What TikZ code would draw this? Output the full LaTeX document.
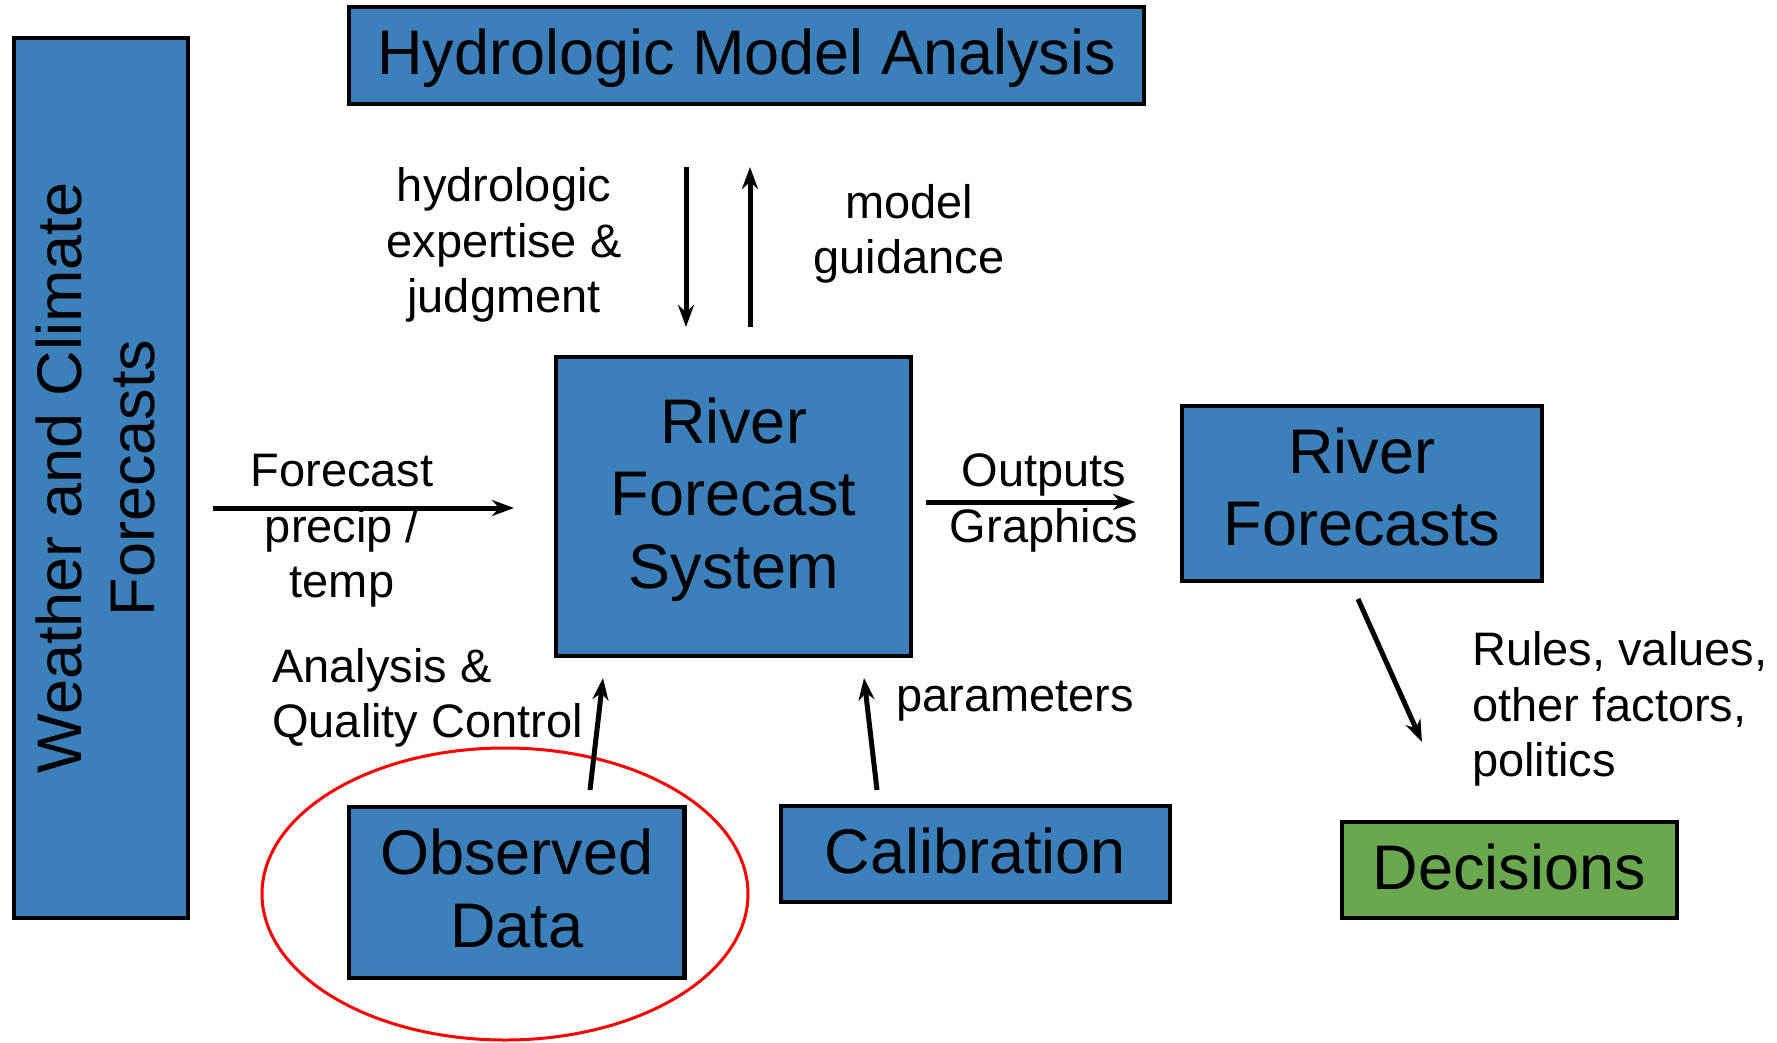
\documentclass[tikz,border=0pt]{standalone}
\usepackage{fontspec}
\setmainfont{Liberation Sans}
\usetikzlibrary{arrows.meta,shapes.geometric}
\definecolor{boxblue}{RGB}{59,128,186}
\definecolor{boxgreen}{RGB}{106,168,79}
\tikzset{
  box/.style={draw=black, line width=4.5pt, fill=boxblue, inner sep=0pt, align=center,
    font=\fontsize{63}{72.5}\selectfont},
  lbl/.style={inner sep=0pt, font=\fontsize{47}{55.5}\selectfont},
  arr/.style={line width=5pt, -{Stealth[length=22pt,width=16pt,inset=7pt]}},
}
\begin{document}
\begin{tikzpicture}[x=1pt,y=-1pt]
\useasboundingbox[fill=white] (0,0) rectangle (1777,1043);
% boxes
\node[box, rotate=90, text depth=12pt, minimum width=879.5pt, minimum height=174.4pt] (wc) at (101,478) {Weather and Climate\\Forecasts};
\node[box, text depth=8.5pt, minimum width=795pt, minimum height=97pt] (hma) at (746.5,55.5) {Hydrologic Model Analysis};
\node[box, text depth=27pt, minimum width=355pt, minimum height=299pt] (rfs) at (733.5,506.5) {River\\Forecast\\System};
\node[box, text depth=14pt, minimum width=360pt, minimum height=175pt] (rf) at (1362,493.5) {River\\Forecasts};
\node[box, text depth=9pt, minimum width=335.5pt, minimum height=171pt] (obs) at (516.8,892.5) {Observed\\Data};
\node[box, text depth=7pt, minimum width=389pt, minimum height=96pt] (cal) at (975.5,854) {Calibration};
\node[box, text depth=7pt, fill=boxgreen, minimum width=335pt, minimum height=96pt] (dec) at (1509.5,870) {Decisions};
% red ellipse
\node[draw=red, line width=3pt, ellipse, inner sep=0pt, minimum width=486pt, minimum height=292pt] (circ) at (505,894) {};
% connector end points
\coordinate (d1) at (686,167); \coordinate (d2) at (686,327);
\coordinate (u1) at (750,327); \coordinate (u2) at (750,167);
\coordinate (f1) at (213,508); \coordinate (f2) at (514,508);
\coordinate (o1) at (926,502); \coordinate (o2) at (1135,502);
\coordinate (a1) at (590,790); \coordinate (a2) at (603,678);
\coordinate (p1) at (877,790); \coordinate (p2) at (864,678);
\coordinate (r1) at (1358,599); \coordinate (r2) at (1422,742);
\draw[arr] (d1) -- (d2);
\draw[arr] (u1) -- (u2);
\draw[arr] (f1) -- (f2);
\draw[arr] (o1) -- (o2);
\draw[arr] (a1) -- (a2);
\draw[arr] (p1) -- (p2);
\draw[arr] (r1) -- (r2);
% labels
\node[lbl, align=center] (l1) at (504,245) {hydrologic\\expertise \&\\judgment};
\node[lbl, align=center] (l2) at (909,234) {model\\guidance};
\node[lbl, align=center] (l3) at (342,531) {Forecast\\precip /\\temp};
\node[lbl, align=center] (l4) at (1044,503) {Outputs\\Graphics};
\node[lbl, align=left, anchor=west] (l5) at (272,698) {Analysis \&\\Quality Control};
\node[lbl, anchor=west] (l6) at (896,701) {parameters};
\node[lbl, align=left, anchor=west] (l7) at (1472,709) {Rules, values,\\other factors,\\politics};
\end{tikzpicture}
\end{document}
